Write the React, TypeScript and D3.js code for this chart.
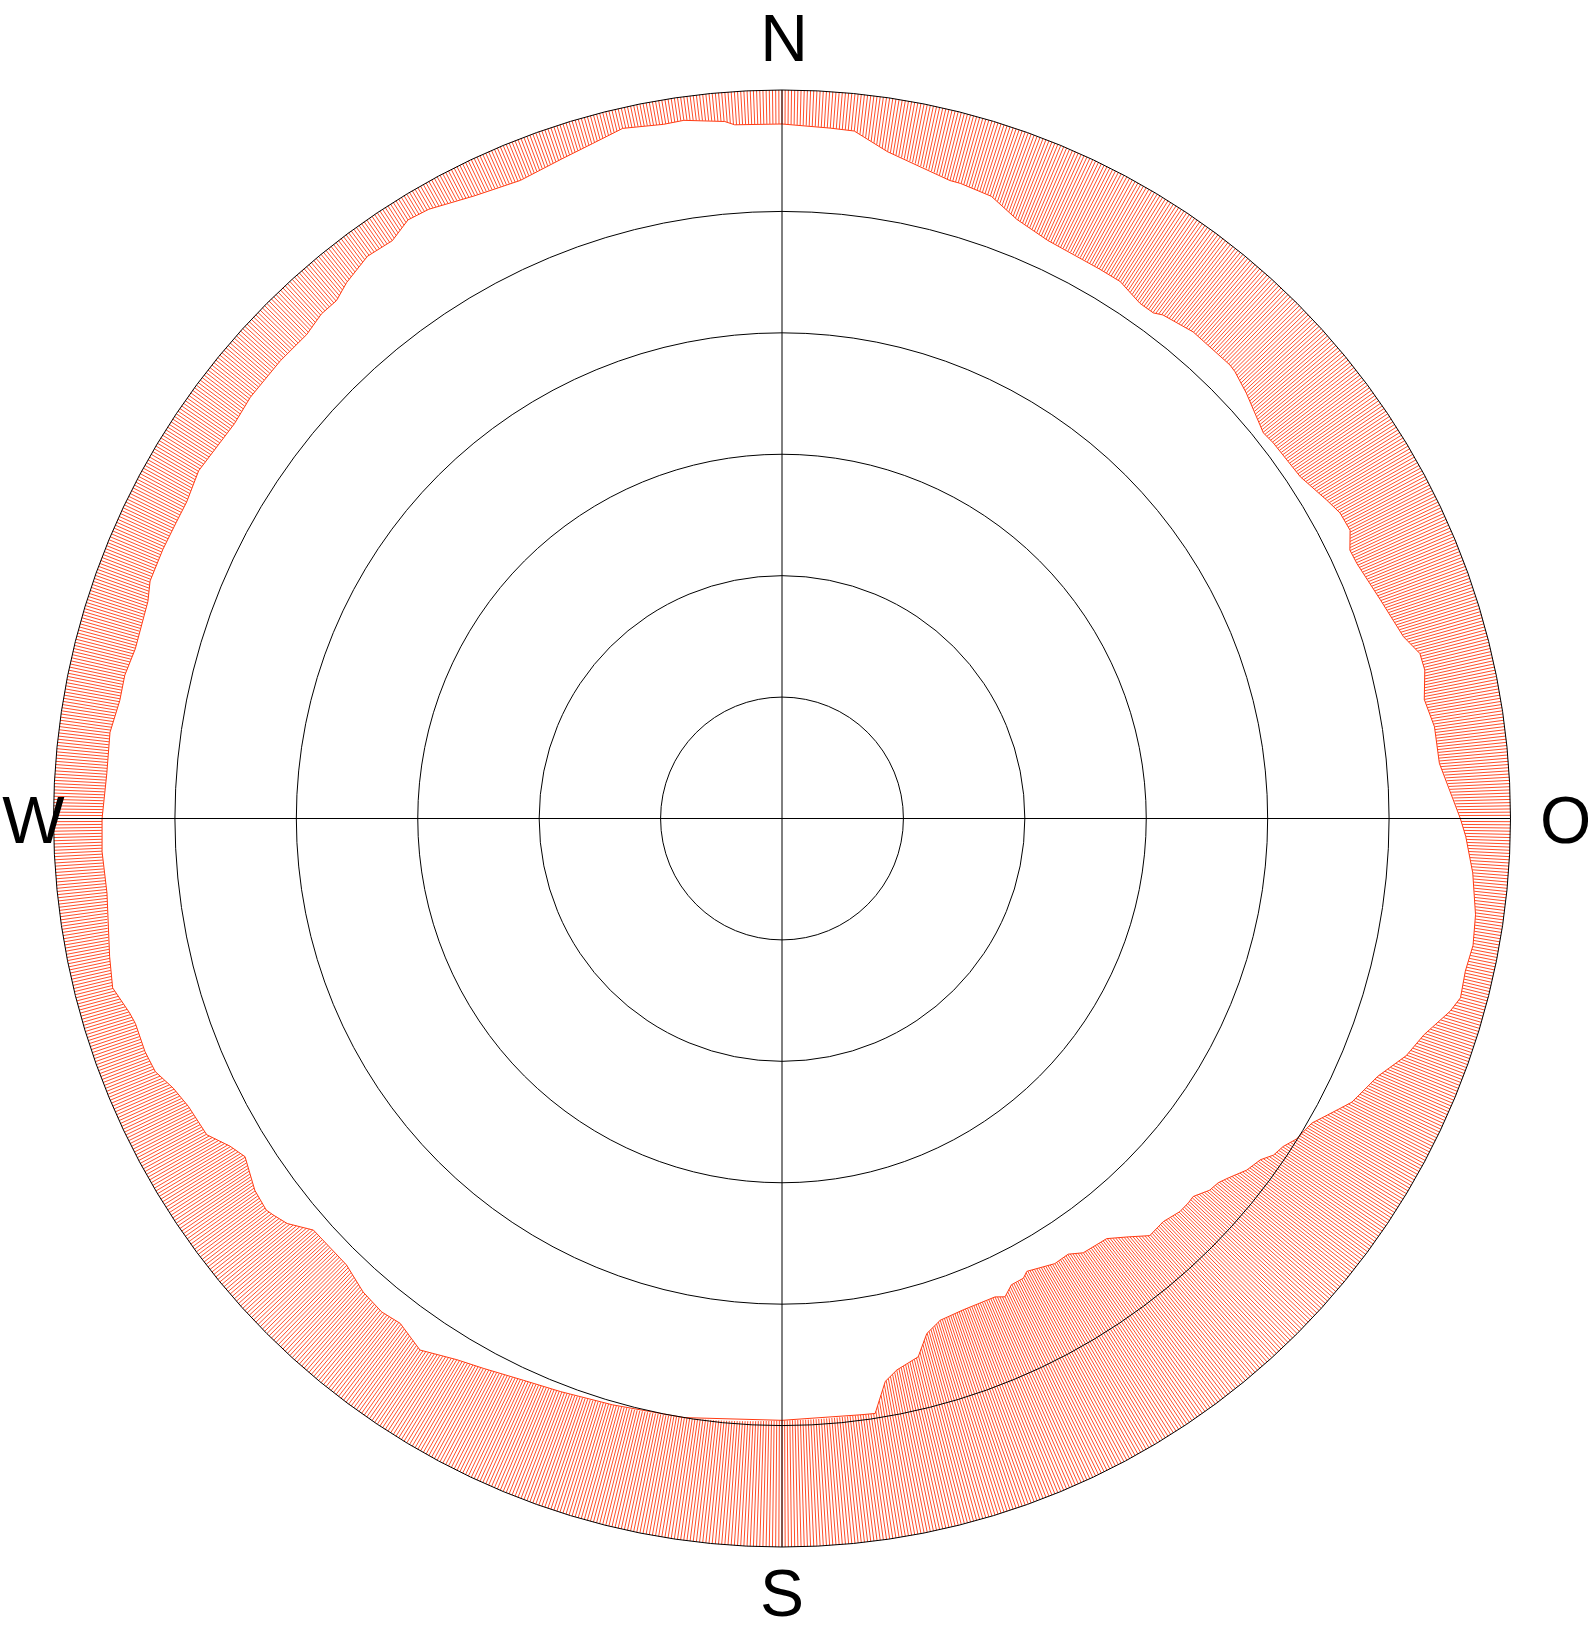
import React from 'react';
import * as d3 from 'd3';

// Horizon profile: azimuth (deg, clockwise from N) and horizon elevation (deg)
const azimuths = [
  0, 4, 6, 9, 14.75, 15.7, 18.6, 21.4, 24.7, 30, 32.2, 34.8, 36.3, 37.1, 40.2, 44.65, 45.4, 47.5,
  51.3, 52.6, 56.6, 59.7, 61.3, 63.1, 64.7, 66.1, 69.9, 73.7, 75.5, 77, 79.5, 82, 85.2, 90, 91.5,
  94.5, 97.9, 100.4, 102.6, 104.8, 106.1, 108.6, 110.8, 113.4, 116.45, 117.45, 119.9, 121.9, 123.2,
  124.4, 125.5, 127.1, 129, 129.9, 131, 132.6, 133.4, 134.65, 136.6, 138.6, 140.5, 142.3, 145.25,
  146.7, 148.5, 151.6, 152.3, 153.8, 155, 156, 159.75, 162.5, 164.3, 165.8, 168.25, 169.6, 171.1,
  172.55, 180, 189.3, 196.1, 201.1, 204.7, 208.5, 211, 214.26, 217.1, 219.06, 221.5, 224.3, 228.7,
  230.7, 232.1, 232.8, 234.8, 237.8, 239.3, 241.2, 244.1, 246.1, 248, 249.9, 252.4, 253.4, 255.8,
  258.4, 263.7, 267.2, 270, 273.8, 277.3, 280.1, 282.3, 284.7, 288.9, 290.6, 293.5, 296, 298,
  300.8, 303, 305.8, 308.4, 312.4, 315.5, 317.6, 319.3, 320.9, 323.6, 326, 328, 329.9, 333.7,
  337.7, 341.5, 344.3, 347, 350.3, 352, 355.3, 356.1, 360,
];
const elevations = [
  4.2, 4.5, 4.6, 6.6, 8.5, 8.5, 8.9, 10.5, 11.4, 11.6, 11.6, 12.5, 12.5, 12.0, 11.3, 11.25, 11.4, 12.2,
  13.8, 13.6, 13.3, 12.05, 11.4, 11.3, 12.4, 12.3, 11.3, 10.0, 8.6, 8.5, 9.3, 8.6, 8.5, 6.2, 5.5,
  4.4, 3.5, 3.2, 3.5, 3.3, 4.1, 6.3, 7.5, 9.8, 11.35, 12.3, 14.5, 15.1, 16.0,
  16.4, 17.4, 18.0, 19.3, 19.8, 20.0, 21.0, 20.9, 20.9, 21.45, 21.3, 23.0, 24.4, 24.7,
  25.6, 25.5, 26.4, 25.85, 25.8, 24.8, 25.3, 25.3, 25.0, 23.9, 21.4, 20.4, 19.3, 15.6,
  15.7, 15.65, 15.0, 14.6, 14.1, 13.6, 12.7, 12.0, 10.55, 11.8, 11.5, 11.9, 12.95, 12.95,
  11.0, 10.3, 10.0, 10.3, 11.6, 10.7, 8.9, 8.5, 7.75, 6.5, 6.2, 6.2, 5.9, 4.7,
  5.2, 6.1, 5.9, 6.0, 6.4, 6.3, 6.9, 6.9, 7.4, 7.2, 6.6, 6.6, 6.7, 6.7,
  6.1, 6.4, 6.6, 6.2, 6.1, 6.2, 5.6, 5.6, 4.7, 3.7, 3.9, 2.8, 3.0, 4.2,
  4.8, 4.1, 3.4, 2.5, 3.0, 2.9, 3.6, 4.1, 4.2,
];
const ringElevations = [15, 30, 45, 60, 75];
const cardinalLabels = ['N', 'O', 'S', 'W'];
const cardinalAzimuths = [0, 90, 180, 270];

const WIDTH = 1588;
const HEIGHT = 1628;
const CX = 782;
const CY = 818.5;
const R = 728.5;
const RED = '#ff3a12';
const HATCH_STEP = 0.25;

const toRad = (deg: number) => (deg * Math.PI) / 180;

export default function App() {
  const rScale = d3.scaleLinear().domain([0, 90]).range([R, 0]);
  const profile = d3.scaleLinear<number>().domain(azimuths).range(elevations).clamp(true);

  const hatchAz = d3.range(0, 360, HATCH_STEP);
  const hatch = hatchAz.map((az) => {
    const a = toRad(az);
    const [x1, y1] = d3.pointRadial(a, rScale(0));
    const [x2, y2] = d3.pointRadial(a, rScale(profile(az)));
    return { x1, y1, x2, y2 };
  });

  const pts = azimuths.map((az, i) => ({ az, h: elevations[i] }));
  const outline = d3
    .lineRadial<{ az: number; h: number }>()
    .angle((d) => toRad(d.az))
    .radius((d) => rScale(d.h))
    .curve(d3.curveLinear)(pts);

  const fontSize = 66;
  const labelPos = (label: string) => {
    const rOut = rScale(0);
    switch (label) {
      case 'N':
        return { x: 2, y: -rOut - 29, anchor: 'middle' };
      case 'S':
        return { x: 0, y: rOut + 69, anchor: 'middle' };
      case 'W':
        return { x: -rOut + 11, y: 24.5, anchor: 'end' };
      default:
        return { x: rOut + 29.5, y: 24.5, anchor: 'start' };
    }
  };

  return (
    <svg
      width={WIDTH}
      height={HEIGHT}
      style={{ position: 'absolute', left: 0, top: 0, background: '#fff' }}
      fontFamily="'Liberation Sans', Arial, sans-serif"
    >
      <rect x={0} y={0} width={WIDTH} height={HEIGHT} fill="#fff" />
      <g transform={`translate(${CX},${CY})`}>
        <g stroke={RED} strokeWidth={0.9}>
          {hatch.map((l, i) => (
            <line key={i} x1={l.x1} y1={l.y1} x2={l.x2} y2={l.y2} />
          ))}
        </g>
        <path d={outline || ''} fill="none" stroke={RED} strokeWidth={1} />
        <g fill="none" stroke="#000" strokeWidth={1}>
          {ringElevations.map((e) => (
            <circle key={e} r={rScale(e)} />
          ))}
          <circle r={rScale(0)} />
          <line x1={-rScale(0)} y1={0} x2={rScale(0)} y2={0} />
          <line x1={0} y1={-rScale(0)} x2={0} y2={rScale(0)} />
        </g>
        {cardinalLabels.map((lab, i) => {
          const p = labelPos(lab);
          return (
            <text
              key={lab}
              data-az={cardinalAzimuths[i]}
              x={p.x}
              y={p.y}
              textAnchor={p.anchor as any}
              fontSize={fontSize}
              fill="#000"
            >
              {lab}
            </text>
          );
        })}
      </g>
    </svg>
  );
}
